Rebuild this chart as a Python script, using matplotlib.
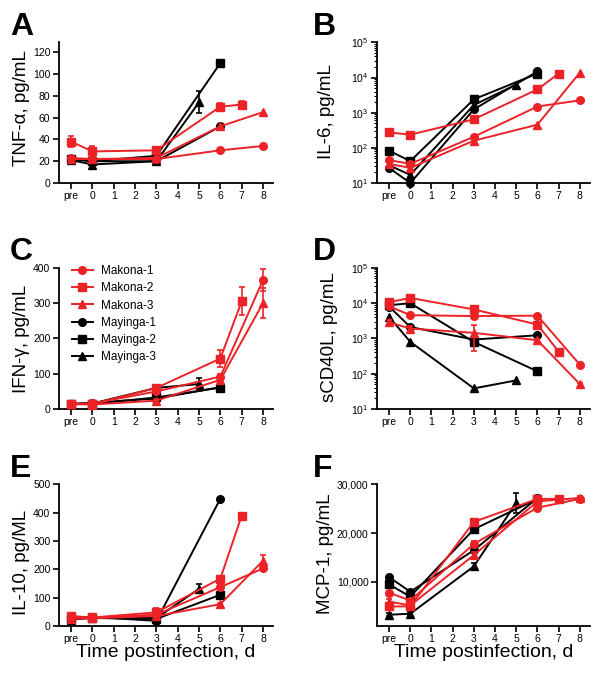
import numpy as np
import matplotlib
matplotlib.use('Agg')
import matplotlib.pyplot as plt
from matplotlib import ticker
from matplotlib.lines import Line2D

plt.rcParams['font.family'] = ['Liberation Sans', 'DejaVu Sans']

# x positions: "pre" is drawn at -1
xticks = [-1, 0, 1, 2, 3, 4, 5, 6, 7, 8]
xticklabels = ['pre', '0', '1', '2', '3', '4', '5', '6', '7', '8']

series = ['Makona-1', 'Makona-2', 'Makona-3', 'Mayinga-1', 'Mayinga-2', 'Mayinga-3']
days = {
    'Makona-1': [-1, 0, 3, 6, 8],
    'Makona-2': [-1, 0, 3, 6, 7],
    'Makona-3': [-1, 0, 3, 6, 8],
    'Mayinga-1': [-1, 0, 3, 6],
    'Mayinga-2': [-1, 0, 3, 6],
    'Mayinga-3': [-1, 0, 3, 5],
}

tnf = {
    'Makona-1': [23, 22, 22, 30, 34],
    'Makona-2': [38, 29, 30, 70, 72],
    'Makona-3': [22, 22, 23, 52, 65],
    'Mayinga-1': [22, 20, 20, 52],
    'Mayinga-2': [22, 20, 25, 110],
    'Mayinga-3': [21, 17, 20, 74],
}
tnf_err = {
    'Makona-2': [5, 5, 2, 3, 3],
    'Mayinga-2': [1, 1, 1, 3],
    'Mayinga-3': [1, 4, 2, 10],
}

il6 = {
    'Makona-1': [45, 35, 207, 1500, 2240],
    'Makona-2': [275, 237, 650, 4600, 12900],
    'Makona-3': [35, 27, 160, 457, 13800],
    'Mayinga-1': [27, 10, 1240, 14900],
    'Mayinga-2': [83, 42, 2400, 13000],
    'Mayinga-3': [32, 17, 1660, 6300],
}
il6_err = {
    'Mayinga-2': [18, 4, 300, 1500],
}

ifn = {
    'Makona-1': [15, 16, 50, 92, 365],
    'Makona-2': [15, 14, 60, 143, 305],
    'Makona-3': [14, 13, 24, 83, 300],
    'Mayinga-1': [15, 18, 30, 62],
    'Mayinga-2': [14, 15, 33, 61],
    'Mayinga-3': [15, 16, 60, 71],
}
ifn_err = {
    'Makona-1': [2, 2, 5, 8, 32],
    'Makona-2': [2, 2, 5, 25, 40],
    'Makona-3': [2, 2, 4, 8, 42],
    'Mayinga-3': [2, 2, 4, 16],
}

cd40 = {
    'Makona-1': [8150, 4540, 4300, 4400, 181],
    'Makona-2': [10600, 14000, 6600, 2470, 424],
    'Makona-3': [2870, 1900, 1440, 890, 51],
    'Mayinga-1': [8000, 2100, 930, 1230],
    'Mayinga-2': [8700, 9900, 795, 117],
    'Mayinga-3': [4070, 800, 38.6, 65],
}
cd40_err = {
    'Makona-3': [500, 300, 1000, 100, 5],
    'Mayinga-2': [1000, 1500, 200, 15],
}

il10 = {
    'Makona-1': [30, 28, 40, 137, 203],
    'Makona-2': [35, 30, 48, 167, 389],
    'Makona-3': [25, 27, 35, 77, 230],
    'Mayinga-1': [30, 32, 18, 449],
    'Mayinga-2': [25, 28, 25, 110],
    'Mayinga-3': [22, 30, 28, 131],
}
il10_err = {
    'Makona-1': [8, 6, 10, 8, 10],
    'Makona-2': [6, 5, 15, 10, 4],
    'Makona-3': [6, 5, 8, 5, 22],
    'Mayinga-3': [3, 3, 4, 16],
}

mcp = {
    'Makona-1': [7800, 6200, 17800, 25200, 27000],
    'Makona-2': [5000, 5000, 22300, 27000, 27000],
    'Makona-3': [6000, 5200, 15500, 26500, 27200],
    'Mayinga-1': [11000, 8000, 16500, 27200],
    'Mayinga-2': [9500, 7000, 20800, 27000],
    'Mayinga-3': [3300, 3500, 13200, 26200],
}
mcp_err = {
    'Makona-1': [400, 400, 500, 400, 300],
    'Makona-3': [600, 800, 600, 300, 300],
    'Mayinga-3': [300, 400, 700, 2000],
}

red = '#ec2227'
style = {
    'Makona-1': (red, 'o'),
    'Makona-2': (red, 's'),
    'Makona-3': (red, '^'),
    'Mayinga-1': ('black', 'o'),
    'Mayinga-2': ('black', 's'),
    'Mayinga-3': ('black', '^'),
}

fig = plt.figure(figsize=(6.0, 6.83), dpi=100)

L1, R1 = 0.098, 0.455
L2, R2 = 0.628, 0.983
rows = [(0.732, 0.938), (0.401, 0.608), (0.0835, 0.291)]

# letter, data, errors, y label, scale, ylim, yticks, x-span, y-span, ylabel pos (axes frac)
panels = [
    ('A', tnf, tnf_err, 'TNF-α, pg/mL', 'lin', (0, 129), [0, 20, 40, 60, 80, 100, 120], (L1, R1), rows[0], (-0.136, 0.53)),
    ('B', il6, il6_err, 'IL-6, pg/mL', 'log', (10, 1e5), None, (L2, R2), rows[0], (-0.197, 0.51)),
    ('C', ifn, ifn_err, 'IFN-γ, pg/mL', 'lin', (0, 400), [0, 100, 200, 300, 400], (L1, R1), rows[1], (-0.136, 0.50)),
    ('D', cd40, cd40_err, 'sCD40L, pg/mL', 'log', (10, 1e5), None, (L2, R2), rows[1], (-0.183, 0.51)),
    ('E', il10, il10_err, 'IL-10, pg/ML', 'lin', (0, 500), [0, 100, 200, 300, 400, 500], (L1, R1), rows[2], (-0.136, 0.45)),
    ('F', mcp, mcp_err, 'MCP-1, pg/mL', 'lin', (1000, 30000), [10000, 20000, 30000], (L2, R2), rows[2], (-0.203, 0.51)),
]

for letter, data, err, ylabel, scale, ylim, yticks, (l, r), (b, t), lab_pos in panels:
    ax = fig.add_axes([l, b, r - l, t - b])
    for s in series:
        c, m = style[s]
        e = err.get(s)
        ax.errorbar(days[s], data[s], yerr=e, color=c, marker=m, ms=5.5,
                    lw=1.4, elinewidth=1.2, capsize=2.5, capthick=1.2,
                    clip_on=False, zorder=3 if c == red else 2)
    if scale == 'log':
        ax.set_yscale('log')
        ax.yaxis.set_major_locator(ticker.LogLocator(base=10, numticks=10))
        ax.yaxis.set_minor_locator(ticker.LogLocator(base=10, subs=np.arange(2, 10), numticks=20))
        ax.yaxis.set_minor_formatter(ticker.NullFormatter())
    else:
        ax.set_yticks(yticks)
        if letter == 'F':
            ax.yaxis.set_major_formatter(ticker.FuncFormatter(lambda v, p: f'{int(v):,}'))
    ax.set_ylim(*ylim)
    ax.set_xlim(-1.58, 8.47)
    ax.set_xticks(xticks)
    ax.set_xticklabels(xticklabels)
    ax.set_ylabel(ylabel, fontsize=13.5)
    ax.yaxis.set_label_coords(*lab_pos)
    for side in ['top', 'right']:
        ax.spines[side].set_visible(False)
    for side in ['left', 'bottom']:
        ax.spines[side].set_linewidth(1.3)
    ax.tick_params(which='major', length=4, width=1.2, labelsize=7.5, pad=2)
    ax.tick_params(which='minor', length=2, width=0.8)
    if letter in ('E', 'F'):
        ax.set_xlabel('Time postinfection, d', fontsize=14, labelpad=0)
    if letter == 'C':
        handles = [Line2D([], [], color=style[s][0], marker=style[s][1], ms=5.5, lw=1.4)
                   for s in series]
        ax.legend(handles, series, loc='upper left', bbox_to_anchor=(0.06, 1.02),
                  frameon=False, fontsize=8.5, handlelength=1.8, handletextpad=0.7,
                  labelspacing=0.45, borderpad=0.0, borderaxespad=0.0)
    lx = l - 0.081 if l < 0.5 else l - 0.106
    fig.text(lx, t + 0.045, letter, fontsize=23, fontweight='bold', va='top', ha='left')

fig.savefig('out.png', dpi=100)
